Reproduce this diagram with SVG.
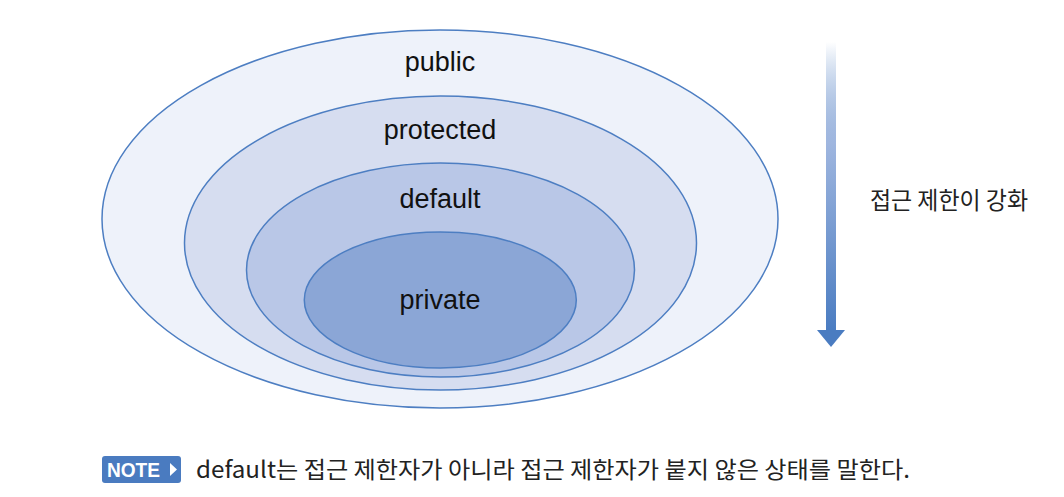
<svg xmlns="http://www.w3.org/2000/svg" width="1064" height="497" viewBox="0 0 1064 497">
<style>
.ring{stroke:#4d7ec2;stroke-width:1.5}
.lbl{font-family:"Liberation Sans",Arial,sans-serif;font-size:27px;fill:#111;text-anchor:middle}
.ko{font-family:"Noto Sans CJK KR","Noto Sans",sans-serif;fill:#222}
</style>
<defs>
<linearGradient id="ag" x1="0" y1="0" x2="0" y2="1">
<stop offset="0" stop-color="#4a7cc1" stop-opacity="0"/>
<stop offset="0.35" stop-color="#9fb6df"/>
<stop offset="1" stop-color="#4a7cc1"/>
</linearGradient>
</defs>
<rect width="1064" height="497" fill="#fff"/>
<g id="public">
<ellipse class="ring" cx="440" cy="219" rx="338" ry="189" fill="#eef2fa"/>
<text class="lbl" x="440" y="71">public</text>
</g>
<g id="protected">
<ellipse class="ring" cx="440.5" cy="243" rx="256" ry="147" fill="#d6ddf0"/>
<text class="lbl" x="440" y="139">protected</text>
</g>
<g id="default">
<ellipse class="ring" cx="440.5" cy="270" rx="194" ry="107" fill="#b9c7e7"/>
<text class="lbl" x="440" y="208">default</text>
</g>
<g id="private">
<ellipse class="ring" cx="440.3" cy="300" rx="136" ry="68" fill="#8ba6d6"/>
<text class="lbl" x="440" y="309">private</text>
</g>
<g id="connectors">
<rect x="826" y="42" width="10" height="290" fill="url(#ag)"/>
<polygon points="817,330 845,330 831,347" fill="#4a7cc1"/>
</g>
<g id="arrow-label">
<text class="ko" x="870" y="209" font-size="24" textLength="158" lengthAdjust="spacingAndGlyphs">접근 제한이 강화</text>
</g>
<g id="note">
<rect x="102" y="456" width="79" height="27" rx="3" fill="#4a7bc0"/>
<text x="107" y="477" font-family="'Liberation Sans',Arial,sans-serif" font-weight="bold" font-size="20" fill="#fff" textLength="53" lengthAdjust="spacingAndGlyphs">NOTE</text>
<polygon points="170,463 177,469.5 170,476" fill="#fff"/>
<text class="ko" x="196" y="478" font-size="23" textLength="714" lengthAdjust="spacingAndGlyphs">default는 접근 제한자가 아니라 접근 제한자가 붙지 않은 상태를 말한다.</text>
</g>
</svg>
